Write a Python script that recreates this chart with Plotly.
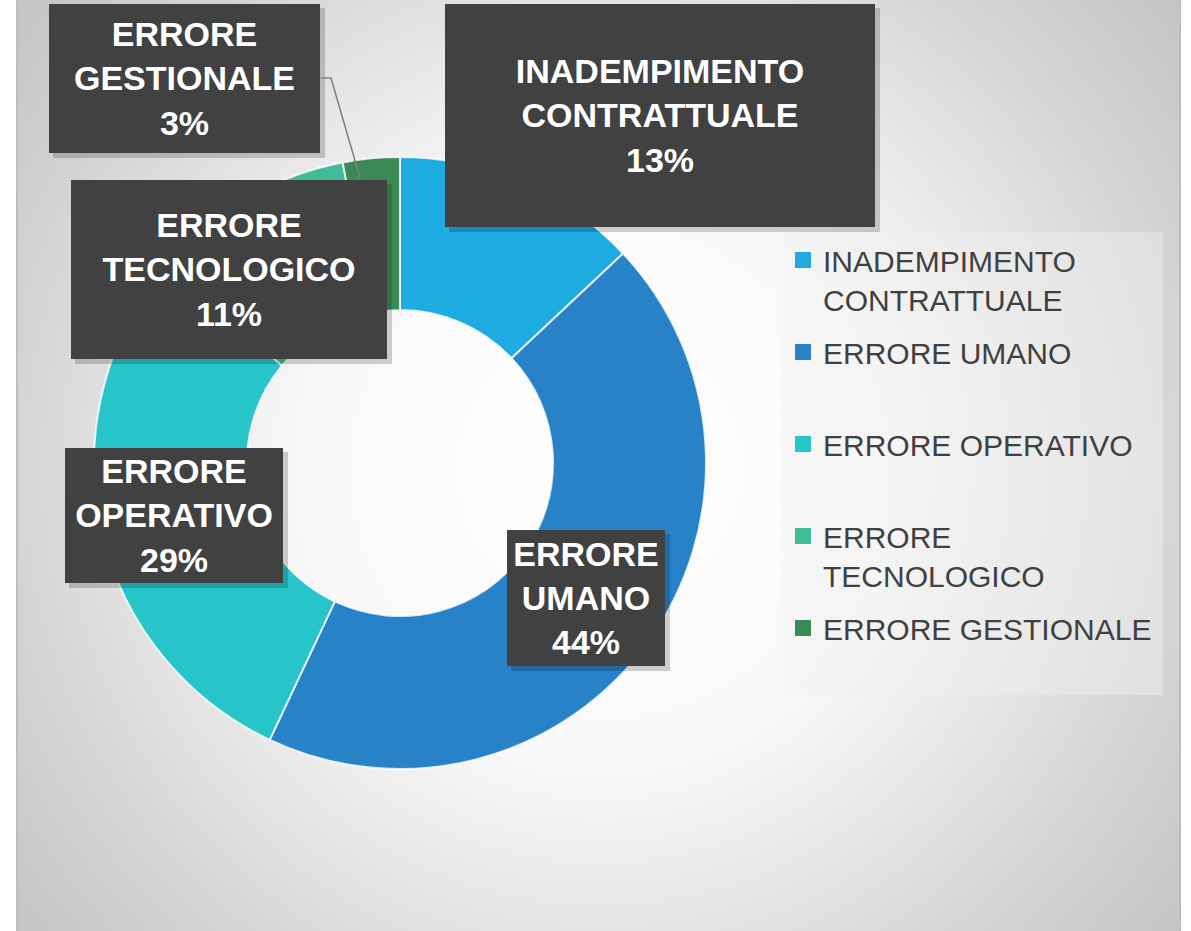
import plotly.graph_objects as go

# data
categories = ["INADEMPIMENTO CONTRATTUALE", "ERRORE UMANO", "ERRORE OPERATIVO",
              "ERRORE TECNOLOGICO", "ERRORE GESTIONALE"]
percent = [13, 44, 29, 11, 3]
legend_names = ["INADEMPIMENTO<br>CONTRATTUALE", "ERRORE UMANO<br> ", "ERRORE OPERATIVO<br> ",
                "ERRORE<br>TECNOLOGICO", "ERRORE GESTIONALE"]
colors = ["#1DABE2", "#2782C8", "#27C4C9", "#42BB98", "#3B8A56"]

W, H = 1191, 931
FONT = "Arial, Liberation Sans, sans-serif"


def px(x):
    return x / W


def py(y):
    return 1 - y / H


# label box pixel positions (left, top, right, bottom)
label_boxes = [(445, 4, 875, 227), (507, 530, 665, 666), (65, 448, 283, 583),
               (71, 180, 387, 359), (49, 4, 320, 153)]

fig = go.Figure()

# radial gradient background of the chart area (square box so the gradient is circular)
cx, cy, half = 600, 470, 760
fig.add_trace(go.Scatter(
    x=[cx - half, cx + half, cx + half, cx - half, cx - half],
    y=[cy - half, cy - half, cy + half, cy + half, cy - half],
    mode="lines", line=dict(width=0), fill="toself",
    fillgradient=dict(type="radial",
                      colorscale=[[0, "#ffffff"], [0.39, "#f8f8f8"], [0.68, "#dedede"],
                                  [0.76, "#d6d6d6"], [0.97, "#c5c5c5"], [1, "#c4c4c4"]]),
    hoverinfo="skip", showlegend=False))

# legend entries
for name, c in zip(legend_names, colors):
    fig.add_trace(go.Scatter(x=[None], y=[None], mode="markers", name=name, legendgroup=name,
                             marker=dict(symbol="square", size=16, color=c)))

fig.add_trace(go.Pie(
    labels=categories, values=percent, hole=0.5, sort=False, direction="clockwise",
    rotation=0, marker=dict(colors=colors, line=dict(color="rgba(255,255,255,0.8)", width=2)),
    textinfo="none", showlegend=False,
    domain=dict(x=[px(94), px(706)], y=[py(769), py(157)])))

shapes = []
annotations = []
for cat, val, (l, t, r, b) in zip(categories, percent, label_boxes):
    shapes.append(dict(type="rect", xref="paper", yref="paper",
                       x0=px(l + 4), x1=px(r + 5), y0=py(b + 5), y1=py(t + 4),
                       fillcolor="rgba(0,0,0,0.18)", line=dict(width=0), layer="above"))
    annotations.append(dict(
        text=cat.replace(" ", "<br>") + "<br>" + f"{val}%",
        xref="paper", yref="paper", x=px((l + r) / 2), y=py((t + b) / 2),
        xanchor="center", yanchor="middle", showarrow=False,
        width=r - l, height=b - t, borderpad=0, borderwidth=0,
        bgcolor="#414141", valign="middle", align="center",
        font=dict(family=FONT, size=34, color="white", weight="bold")))

# leader line for the small slice
shapes.append(dict(type="path", xref="paper", yref="paper",
                   path=f"M{px(321)},{py(78)} L{px(331)},{py(78)} L{px(360)},{py(178)}",
                   line=dict(color="#7f7f7f", width=1.5), layer="above"))

# legend box
shapes.append(dict(type="rect", xref="paper", yref="paper",
                   x0=px(783), x1=px(1163), y0=py(695), y1=py(232),
                   fillcolor="rgba(240,240,240,0.45)", line=dict(width=0), layer="above"))

# chart area border
shapes.append(dict(type="rect", xref="paper", yref="paper",
                   x0=px(17), x1=px(1180), y0=py(933), y1=py(-2),
                   line=dict(color="#bdbdbd", width=2), layer="above"))

fig.update_layout(
    width=W, height=H,
    margin=dict(l=0, r=0, t=0, b=0),
    paper_bgcolor="white", plot_bgcolor="rgba(0,0,0,0)",
    xaxis=dict(domain=[px(18), px(1180)], range=[18, 1180], visible=False, fixedrange=True),
    yaxis=dict(domain=[0, 1], range=[931, 0], visible=False, fixedrange=True),
    shapes=shapes, annotations=annotations,
    legend=dict(x=px(783), y=py(234), xanchor="left", yanchor="top",
                bgcolor="rgba(0,0,0,0)", traceorder="grouped", tracegroupgap=11,
                valign="top", font=dict(family=FONT, size=30, color="#404040")),
)

fig.write_html("out.html", config={"displayModeBar": False},
               post_script="document.body.style.margin='0';document.body.style.overflow='hidden';")
